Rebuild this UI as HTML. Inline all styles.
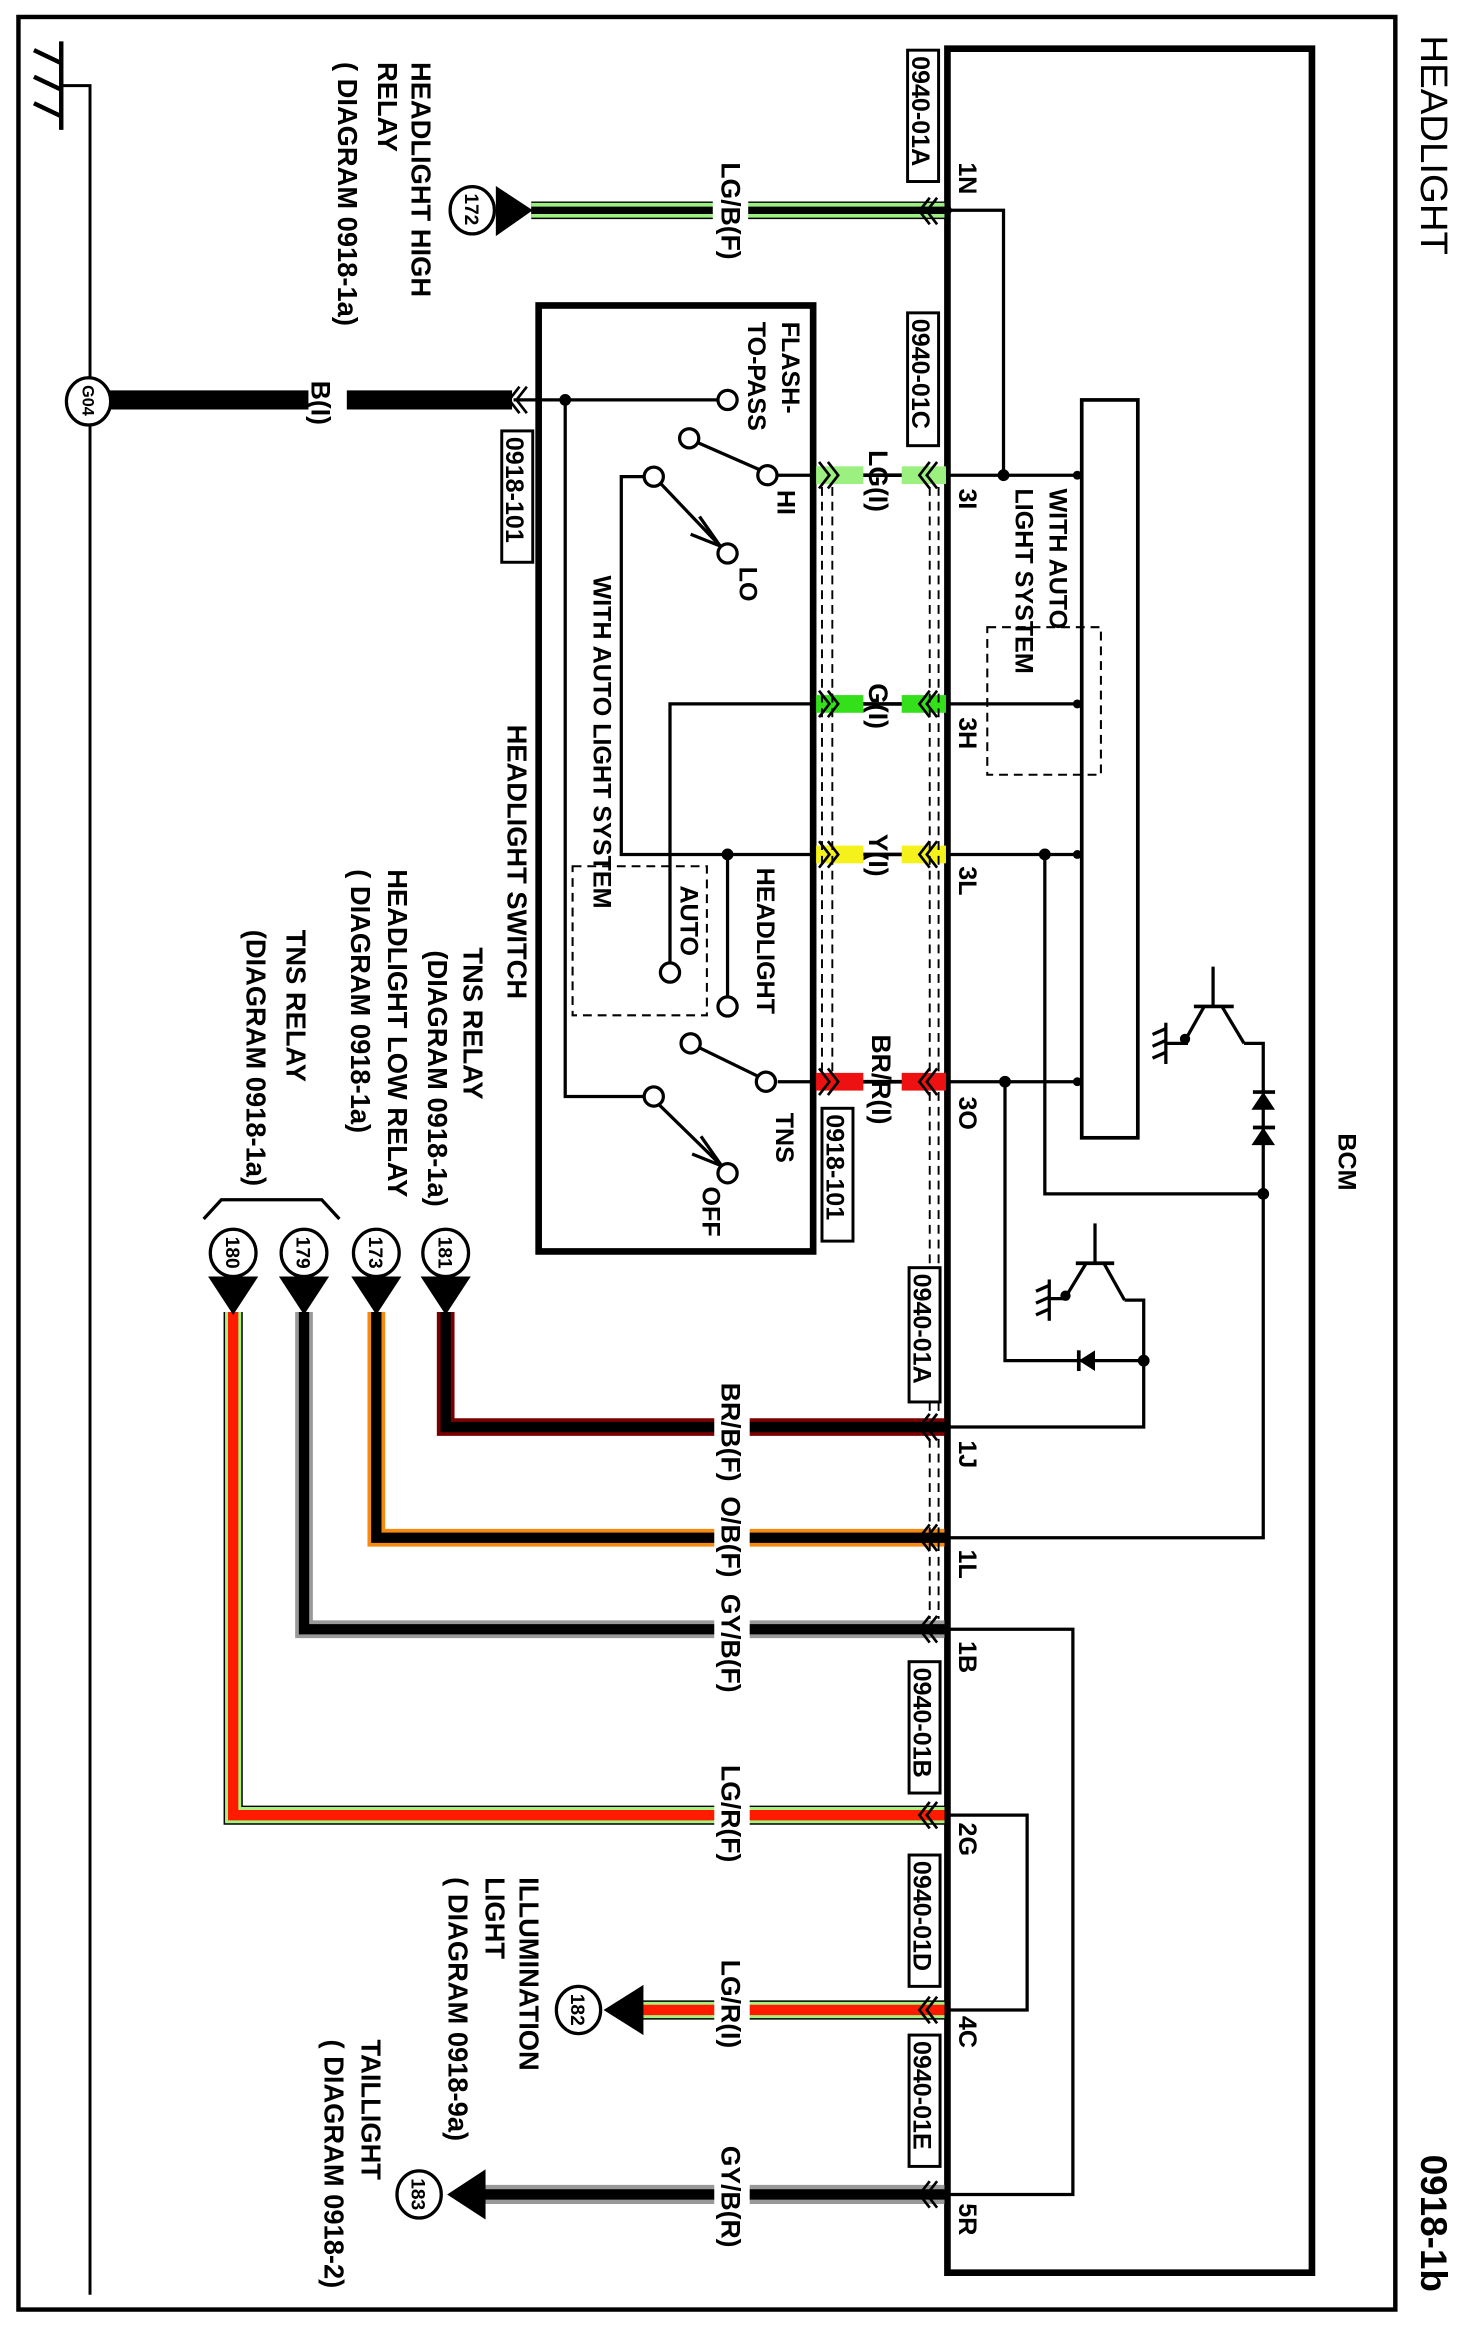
<!DOCTYPE html>
<html><head><meta charset="utf-8">
<style>
html,body{margin:0;padding:0;background:#fff;}
svg{display:block;}
.t{font-family:"Liberation Sans",Arial,sans-serif;font-weight:bold;font-size:17px;fill:#000;}
.w{font-size:18px;}
.l{font-size:18.5px;}
.big{font-size:25px;}
.n{font-size:13px;}
</style></head>
<body>
<svg width="1461" height="2328" viewBox="0 0 990 1577.5" preserveAspectRatio="none" xmlns="http://www.w3.org/2000/svg">
<rect width="990" height="1577.5" fill="#fff"/>
<g fill="none" stroke="#000" stroke-linecap="butt">
<rect x="12.5" y="11.5" width="933" height="1553.5" stroke-width="3"/>
<path d="M642,1540 L642,33 L889,33 L889,1540 Z" stroke-width="4.5"/>
<rect x="365" y="207" width="186" height="641" stroke-width="4.5"/>
<line x1="41.5" y1="28" x2="41.5" y2="88" stroke-width="3"/>
<line x1="23" y1="34" x2="42" y2="43" stroke-width="3"/>
<line x1="23" y1="52" x2="42" y2="61" stroke-width="3"/>
<line x1="23" y1="70" x2="42" y2="79" stroke-width="3"/>
<polyline points="41.5,58 61,58 61,1555" stroke-width="2"/>
</g>

<g fill="none" stroke-linejoin="miter">
<line x1="360" y1="142.5" x2="640" y2="142.5" stroke="#000" stroke-width="12"/>
<line x1="360" y1="142.5" x2="640" y2="142.5" stroke="#9bf07f" stroke-width="10"/>
<line x1="360" y1="142.5" x2="640" y2="142.5" stroke="#000" stroke-width="5"/>
<line x1="74" y1="271" x2="347" y2="271" stroke="#000" stroke-width="13"/>
<polyline points="302,889 302,967 640,967" stroke="#7a0000" stroke-width="12"/>
<polyline points="302,889 302,967 640,967" stroke="#000" stroke-width="7"/>
<polyline points="255,889 255,1042 640,1042" stroke="#f58a10" stroke-width="12"/>
<polyline points="255,889 255,1042 640,1042" stroke="#000" stroke-width="7"/>
<polyline points="206,889 206,1104 640,1104" stroke="#999" stroke-width="12"/>
<polyline points="206,889 206,1104 640,1104" stroke="#000" stroke-width="7"/>
<polyline points="158,889 158,1230 640,1230" stroke="#000" stroke-width="13"/>
<polyline points="158,889 158,1230 640,1230" stroke="#a6f27e" stroke-width="11"/>
<polyline points="158,889 158,1230 640,1230" stroke="#ff1a00" stroke-width="7"/>
<line x1="430" y1="1362" x2="640" y2="1362" stroke="#000" stroke-width="13"/>
<line x1="430" y1="1362" x2="640" y2="1362" stroke="#a6f27e" stroke-width="11"/>
<line x1="430" y1="1362" x2="640" y2="1362" stroke="#ff1a00" stroke-width="7"/>
<line x1="326" y1="1487" x2="640" y2="1487" stroke="#999" stroke-width="13"/>
<line x1="326" y1="1487" x2="640" y2="1487" stroke="#000" stroke-width="7"/>
</g>
<g fill="#fff">
<rect x="483" y="130" width="24" height="25"/>
<rect x="209" y="260" width="26" height="22"/>
<rect x="484" y="955" width="24" height="25"/>
<rect x="484" y="1030" width="24" height="25"/>
<rect x="484" y="1092" width="24" height="25"/>
<rect x="484" y="1218" width="24" height="25"/>
<rect x="484" y="1350" width="24" height="25"/>
<rect x="484" y="1475" width="24" height="25"/>
</g>

<g stroke="#000" stroke-width="2.5">
<line x1="551" y1="322" x2="642" y2="322"/>
<line x1="551" y1="477" x2="642" y2="477"/>
<line x1="551" y1="579" x2="642" y2="579"/>
<line x1="551" y1="733" x2="642" y2="733"/>
</g>
<g>
<rect x="553" y="316" width="32" height="12" fill="#9bf07f"/><rect x="611" y="316" width="30" height="12" fill="#9bf07f"/>
<rect x="553" y="471" width="32" height="12" fill="#33e01a"/><rect x="611" y="471" width="30" height="12" fill="#33e01a"/>
<rect x="553" y="573" width="32" height="12" fill="#f4f21a"/><rect x="611" y="573" width="30" height="12" fill="#f4f21a"/>
<rect x="553" y="727" width="32" height="12" fill="#ee1111"/><rect x="611" y="727" width="30" height="12" fill="#ee1111"/>
</g>
<g stroke="#000" stroke-width="1.3" stroke-dasharray="6,4" fill="none">
<line x1="557" y1="330" x2="557" y2="726"/>
<line x1="564" y1="330" x2="564" y2="726"/>
<line x1="630" y1="330" x2="630" y2="726"/>
<line x1="636" y1="330" x2="636" y2="726"/>
<line x1="630" y1="975" x2="630" y2="1097"/>
<line x1="636" y1="975" x2="636" y2="1097"/>
<line x1="630" y1="740" x2="630" y2="960"/>
<line x1="636" y1="740" x2="636" y2="960"/>
</g>

<g fill="none" stroke="#000" stroke-width="1.8">
<path d="M630,134 l-7,9 l7,9 M635,134 l-7,9 l7,9"/>
<path d="M630,313 l-7,9 l7,9 M635,313 l-7,9 l7,9"/>
<path d="M630,468 l-7,9 l7,9 M635,468 l-7,9 l7,9"/>
<path d="M630,570 l-7,9 l7,9 M635,570 l-7,9 l7,9"/>
<path d="M630,724 l-7,9 l7,9 M635,724 l-7,9 l7,9"/>
<path d="M630,958 l-7,9 l7,9 M635,958 l-7,9 l7,9"/>
<path d="M630,1033 l-7,9 l7,9 M635,1033 l-7,9 l7,9"/>
<path d="M630,1095 l-7,9 l7,9 M635,1095 l-7,9 l7,9"/>
<path d="M630,1221 l-7,9 l7,9 M635,1221 l-7,9 l7,9"/>
<path d="M630,1353 l-7,9 l7,9 M635,1353 l-7,9 l7,9"/>
<path d="M630,1478 l-7,9 l7,9 M635,1478 l-7,9 l7,9"/>
<path d="M555,313 l7,9 l-7,9 M561,313 l7,9 l-7,9"/>
<path d="M555,468 l7,9 l-7,9 M561,468 l7,9 l-7,9"/>
<path d="M555,570 l7,9 l-7,9 M561,570 l7,9 l-7,9"/>
<path d="M555,724 l7,9 l-7,9 M561,724 l7,9 l-7,9"/>
<path d="M352,262 l-7,9 l7,9 M357,262 l-7,9 l7,9"/>
</g>

<g fill="none" stroke="#000" stroke-width="2.2">
<polyline points="348,271 486,271"/>
<polyline points="383,271 383,743 436,743"/>
<line x1="527" y1="322" x2="551" y2="322"/>
<line x1="514" y1="318" x2="473" y2="300"/>
<polyline points="436,323 421,323 421,579 551,579"/>
<line x1="448" y1="328" x2="488" y2="370"/>
<path d="M474,350 L488,370 L468,362"/>
<line x1="493" y1="579" x2="493" y2="675"/>
<polyline points="551,477 454,477 454,652"/>
<line x1="527" y1="733" x2="551" y2="733"/>
<line x1="513" y1="729" x2="474" y2="710"/>
<line x1="447" y1="749" x2="489" y2="790"/>
<path d="M475,770 L489,790 L469,782"/>
<rect x="388" y="587" width="91" height="101" stroke-width="1.4" stroke-dasharray="6,4"/>
</g>
<g fill="#fff" stroke="#000" stroke-width="2.2">
<circle cx="493" cy="271" r="6.5"/>
<circle cx="467" cy="297" r="6.5"/>
<circle cx="520" cy="322" r="6.5"/>
<circle cx="443" cy="323" r="6.5"/>
<circle cx="493" cy="375" r="6.5"/>
<circle cx="454" cy="659" r="6.5"/>
<circle cx="493" cy="682" r="6.5"/>
<circle cx="468" cy="707" r="6.5"/>
<circle cx="519" cy="733" r="6.5"/>
<circle cx="443" cy="743" r="6.5"/>
<circle cx="493" cy="795" r="6.5"/>
</g>
<circle cx="383" cy="271" r="4" fill="#000"/>
<circle cx="493" cy="579" r="4" fill="#000"/>

<g fill="none" stroke="#000" stroke-width="2.2">
<rect x="733" y="271" width="38" height="500" stroke-width="2.5"/>
<polyline points="642,142.5 680,142.5 680,322"/>
<line x1="642" y1="322" x2="731" y2="322"/>
<line x1="642" y1="477" x2="731" y2="477"/>
<line x1="642" y1="579" x2="731" y2="579"/>
<line x1="642" y1="733" x2="731" y2="733"/>
<rect x="669" y="425" width="77" height="100" stroke-width="1.4" stroke-dasharray="6,4"/>
<polyline points="708,579 708,809 856,809"/>
<polyline points="843,707 856,707 856,1042 642,1042"/>
<polyline points="681,733 681,922 775,922"/>
<polyline points="642,967 775,967 775,881 762,881"/>
<line x1="822" y1="655" x2="822" y2="682"/>
<line x1="809" y1="682" x2="836" y2="682" stroke-width="2.5"/>
<line x1="816" y1="682" x2="803" y2="705"/>
<line x1="828" y1="682" x2="843" y2="707"/>
<line x1="790" y1="707" x2="805" y2="707"/>
<line x1="790" y1="693" x2="790" y2="721"/>
<line x1="781" y1="701" x2="790" y2="697"/>
<line x1="781" y1="709" x2="790" y2="705"/>
<line x1="781" y1="717" x2="790" y2="713"/>
<line x1="742" y1="829" x2="742" y2="856"/>
<line x1="729" y1="856" x2="755" y2="856" stroke-width="2.5"/>
<line x1="736" y1="856" x2="722" y2="879"/>
<line x1="748" y1="856" x2="762" y2="881"/>
<line x1="711" y1="880" x2="724" y2="880"/>
<line x1="711" y1="867" x2="711" y2="895"/>
<line x1="702" y1="875" x2="711" y2="871"/>
<line x1="702" y1="883" x2="711" y2="879"/>
<line x1="702" y1="891" x2="711" y2="887"/>
<line x1="849" y1="740" x2="864" y2="740" stroke-width="2.5"/>
<line x1="849" y1="764" x2="864" y2="764" stroke-width="2.5"/>
<line x1="731" y1="915" x2="731" y2="929" stroke-width="2.5"/>
<polyline points="642,1104 727,1104 727,1487 642,1487"/>
<polyline points="642,1230 696,1230 696,1362 642,1362"/>
</g>
<g fill="#000">
<polygon points="856,740 848,752 864,752"/>
<polygon points="856,764 848,776 864,776"/>
<polygon points="731,922 742,915 742,929"/>
<circle cx="642" cy="142.5" r="3"/>
<circle cx="680" cy="322" r="4"/>
<circle cx="708" cy="579" r="4"/>
<circle cx="681" cy="733" r="4"/>
<circle cx="856" cy="809" r="4"/>
<circle cx="775" cy="922" r="4"/>
<circle cx="803" cy="704" r="3.5"/>
<circle cx="722" cy="878" r="3.5"/>
<circle cx="730" cy="322" r="3"/>
<circle cx="730" cy="477" r="3"/>
<circle cx="730" cy="579" r="3"/>
<circle cx="730" cy="733" r="3"/>
<polygon points="336,126 336,160 361,142.5"/>
<polygon points="285,865 319,865 302,891"/>
<polygon points="238,865 272,865 255,891"/>
<polygon points="189,865 223,865 206,891"/>
<polygon points="141,865 175,865 158,891"/>
<polygon points="409,1362 436,1345 436,1379"/>
<polygon points="303,1487 329,1470 329,1504"/>
</g>
<g fill="#fff" stroke="#000" stroke-width="2.2">
<ellipse cx="320" cy="142.5" rx="15" ry="16"/>
<ellipse cx="60" cy="272" rx="15" ry="16"/>
<ellipse cx="302" cy="849" rx="15.5" ry="16"/>
<ellipse cx="255" cy="849" rx="15.5" ry="16"/>
<ellipse cx="206" cy="849" rx="15.5" ry="16"/>
<ellipse cx="158" cy="849" rx="15.5" ry="16"/>
<ellipse cx="392" cy="1362" rx="15" ry="16"/>
<ellipse cx="284" cy="1487" rx="15" ry="16"/>
</g>
<polyline points="138,826 150,813 218,813 230,826" fill="none" stroke="#000" stroke-width="2.2"/>

<g fill="#fff" stroke="#000" stroke-width="2">
<rect x="615" y="34" width="21" height="89"/>
<rect x="615" y="212" width="21" height="90"/>
<rect x="340" y="292" width="21" height="89"/>
<rect x="557" y="751" width="21" height="90"/>
<rect x="616" y="859" width="21" height="91"/>
<rect x="616" y="1126" width="21" height="89"/>
<rect x="616" y="1257" width="21" height="89"/>
<rect x="616" y="1379" width="21" height="89"/>
</g>

<g class="t">
<text class="t big" style="font-weight:normal;font-size:26px" transform="translate(963,24) rotate(90)">HEADLIGHT</text>
<text class="t big" transform="translate(963,1460) rotate(90)">0918-1b</text>
<text class="t" transform="translate(907,768) rotate(90)">BCM</text>

<text class="t" transform="translate(618,38) rotate(90)">0940-01A</text>
<text class="t" transform="translate(618,216) rotate(90)">0940-01C</text>
<text class="t" transform="translate(343,296) rotate(90)">0918-101</text>
<text class="t" transform="translate(560,755) rotate(90)">0918-101</text>
<text class="t" transform="translate(619,863) rotate(90)">0940-01A</text>
<text class="t" transform="translate(619,1130) rotate(90)">0940-01B</text>
<text class="t" transform="translate(619,1261) rotate(90)">0940-01D</text>
<text class="t" transform="translate(619,1383) rotate(90)">0940-01E</text>

<text class="t" transform="translate(650,110) rotate(90)">1N</text>
<text class="t" transform="translate(650,331) rotate(90)">3I</text>
<text class="t" transform="translate(650,486) rotate(90)">3H</text>
<text class="t" transform="translate(650,587) rotate(90)">3L</text>
<text class="t" transform="translate(650,743) rotate(90)">3O</text>
<text class="t" transform="translate(650,976) rotate(90)">1J</text>
<text class="t" transform="translate(650,1050) rotate(90)">1L</text>
<text class="t" transform="translate(650,1112) rotate(90)">1B</text>
<text class="t" transform="translate(650,1235) rotate(90)">2G</text>
<text class="t" transform="translate(650,1366) rotate(90)">4C</text>
<text class="t" transform="translate(650,1493) rotate(90)">5R</text>

<text class="t w" transform="translate(489,110) rotate(90)">LG/B(F)</text>
<text class="t w" transform="translate(211,258) rotate(90)">B(I)</text>
<text class="t w" transform="translate(589,305) rotate(90)">LG(I)</text>
<text class="t w" transform="translate(589,463) rotate(90)">G(I)</text>
<text class="t w" transform="translate(589,565) rotate(90)">Y(I)</text>
<text class="t w" transform="translate(591,701) rotate(90)">BR/R(I)</text>
<text class="t w" transform="translate(489,937) rotate(90)">BR/B(F)</text>
<text class="t w" transform="translate(489,1014) rotate(90)">O/B(F)</text>
<text class="t w" transform="translate(489,1080) rotate(90)">GY/B(F)</text>
<text class="t w" transform="translate(489,1196) rotate(90)">LG/R(F)</text>
<text class="t w" transform="translate(489,1328) rotate(90)">LG/R(I)</text>
<text class="t w" transform="translate(489,1454) rotate(90)">GY/B(R)</text>

<text class="t" transform="translate(711,331) rotate(90)">WITH AUTO</text>
<text class="t" transform="translate(688,331) rotate(90)">LIGHT SYSTEM</text>

<text class="t" transform="translate(530,218) rotate(90)">FLASH-</text>
<text class="t" transform="translate(507,218) rotate(90)">TO-PASS</text>
<text class="t" transform="translate(527,332) rotate(90)">HI</text>
<text class="t" transform="translate(501,384) rotate(90)">LO</text>
<text class="t" transform="translate(402,390) rotate(90)">WITH AUTO LIGHT SYSTEM</text>
<text class="t" transform="translate(461,600) rotate(90)">AUTO</text>
<text class="t" transform="translate(513,588) rotate(90)">HEADLIGHT</text>
<text class="t" transform="translate(526,754) rotate(90)">TNS</text>
<text class="t" transform="translate(476,804) rotate(90)">OFF</text>
<text class="t l" transform="translate(344,491) rotate(90)">HEADLIGHT SWITCH</text>

<text class="t l" transform="translate(279,42) rotate(90)">HEADLIGHT HIGH</text>
<text class="t l" transform="translate(256,42) rotate(90)">RELAY</text>
<text class="t l" transform="translate(229,42) rotate(90)">( DIAGRAM 0918-1a)</text>

<text class="t l" transform="translate(314,642) rotate(90)">TNS RELAY</text>
<text class="t l" transform="translate(290,644) rotate(90)">(DIAGRAM 0918-1a)</text>
<text class="t l" transform="translate(263,589) rotate(90)">HEADLIGHT LOW RELAY</text>
<text class="t l" transform="translate(238,589) rotate(90)">( DIAGRAM 0918-1a)</text>
<text class="t l" transform="translate(194,630) rotate(90)">TNS RELAY</text>
<text class="t l" transform="translate(167,630) rotate(90)">(DIAGRAM 0918-1a)</text>

<text class="t l" transform="translate(352,1272) rotate(90)">ILLUMINATION</text>
<text class="t l" transform="translate(329,1272) rotate(90)">LIGHT</text>
<text class="t l" transform="translate(304,1272) rotate(90)">( DIAGRAM 0918-9a)</text>
<text class="t l" transform="translate(245,1382) rotate(90)">TAILLIGHT</text>
<text class="t l" transform="translate(220,1382) rotate(90)">( DIAGRAM 0918-2)</text>

<text class="t n" transform="translate(315,131) rotate(90)">172</text>
<text class="t" style="font-size:11px" transform="translate(56,261) rotate(90)">G04</text>
<text class="t n" transform="translate(297,838) rotate(90)">181</text>
<text class="t n" transform="translate(250,838) rotate(90)">173</text>
<text class="t n" transform="translate(201,838) rotate(90)">179</text>
<text class="t n" transform="translate(153,838) rotate(90)">180</text>
<text class="t n" transform="translate(387,1351) rotate(90)">182</text>
<text class="t n" transform="translate(279,1476) rotate(90)">183</text>
</g>
</svg>
</body></html>
